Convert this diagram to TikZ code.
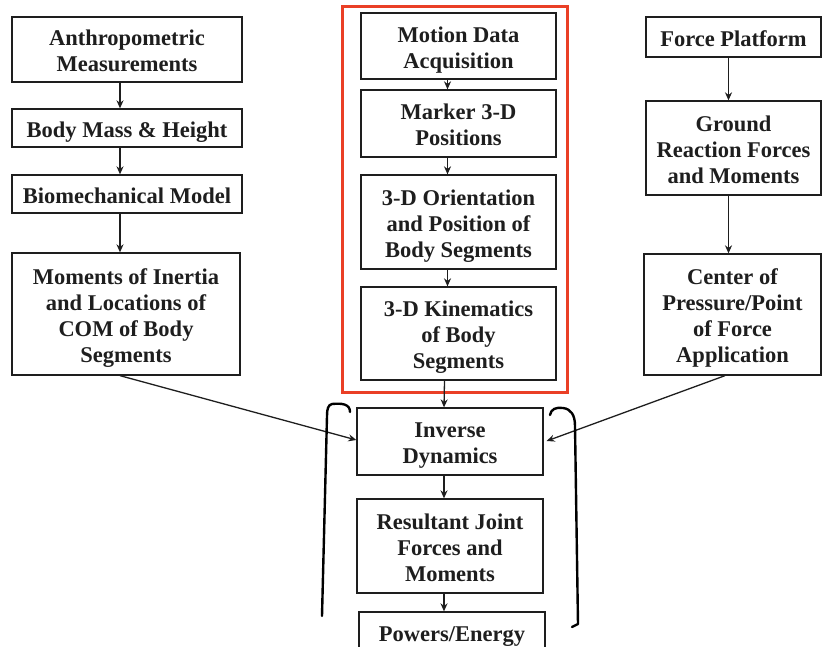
\documentclass[tikz,border=0pt]{standalone}
\usepackage{fontspec}
\setmainfont{Liberation Serif}
\usetikzlibrary{arrows.meta}
\definecolor{ink}{HTML}{1E1E1E}
\definecolor{redframe}{HTML}{EA3F26}
% centred stack of lines with a tall strut in the first row, which sets the text a little low in its box
\newcommand\boxlines[1]{\begin{tabular}{@{}c@{}}\rule{0pt}{26pt}#1\end{tabular}}
\tikzset{
  stepbox/.style={draw=ink, line width=1.3pt, inner sep=0pt,
    font=\fontsize{22.5}{26}\selectfont\bfseries, text=ink},
  arr/.style={draw=ink, line width=1.3pt, -{Stealth[length=8pt,width=7pt]}},
  brace/.style={draw=black, line width=2.4pt, line cap=round, line join=round}
}
\begin{document}
\begin{tikzpicture}[x=1pt,y=-1pt]
\useasboundingbox (0,0) rectangle (822,647);

% left column: body model inputs
\node[stepbox, minimum width=230pt, minimum height=65pt] (anthro) at (127,49.5) {\boxlines{Anthropometric\\Measurements}};
\node[stepbox, minimum width=230pt, minimum height=38pt] (mass) at (127,128) {\boxlines{Body Mass \& Height}};
\node[stepbox, minimum width=230pt, minimum height=38pt] (model) at (127,194) {\boxlines{Biomechanical Model}};
\node[stepbox, minimum width=228pt, minimum height=122pt] (inertia) at (126,314) {\boxlines{Moments of Inertia\\and Locations of\\COM of Body\\Segments}};

% centre column: motion capture chain
\draw[redframe, line width=3pt] (342,7) rectangle (567,392);
\node[stepbox, minimum width=195pt, minimum height=66pt] (motion) at (458.5,46) {\boxlines{Motion Data\\Acquisition}};
\node[stepbox, minimum width=195pt, minimum height=67pt] (marker) at (458.5,123.5) {\boxlines{Marker 3-D\\Positions}};
\node[stepbox, minimum width=195pt, minimum height=94pt] (orient) at (458.5,222) {\boxlines{3-D Orientation\\and Position of\\Body Segments}};
\node[stepbox, minimum width=195pt, minimum height=93pt] (kinem) at (458.5,333.5) {\boxlines{3-D Kinematics\\of Body\\Segments}};

% lower centre: dynamics and outputs
\node[stepbox, minimum width=186pt, minimum height=67pt] (inverse) at (450,441.5) {\boxlines{Inverse\\Dynamics}};
\node[stepbox, minimum width=186pt, minimum height=94pt] (joint) at (450,546) {\boxlines{Resultant Joint\\Forces and\\Moments}};
\node[stepbox, minimum width=186pt, minimum height=40pt] (power) at (452,632) {\boxlines{Powers/Energy}};

% right column: force plate chain
\node[stepbox, minimum width=175pt, minimum height=40pt] (plate) at (733.5,37) {\boxlines{Force Platform}};
\node[stepbox, minimum width=175pt, minimum height=94pt] (grf) at (733.5,148) {\boxlines{Ground\\Reaction Forces\\and Moments}};
\node[stepbox, minimum width=177pt, minimum height=121pt] (cop) at (732.5,314.5) {\boxlines{Center of\\Pressure/Point\\of Force\\Application}};

% vertical connectors
\draw[arr] ([xshift=-7pt]anthro.south) -- ([xshift=-7pt]mass.north);
\draw[arr] ([xshift=-7pt]mass.south) -- ([xshift=-7pt]model.north);
\draw[arr] ([xshift=-7pt]model.south) -- ([xshift=-6pt]inertia.north);
\draw[arr] ([xshift=-11pt]motion.south) -- ([xshift=-11pt]marker.north);
\draw[arr] ([xshift=-11pt]marker.south) -- ([xshift=-11pt]orient.north);
\draw[arr] ([xshift=-11pt]orient.south) -- ([xshift=-11pt]kinem.north);
\draw[arr] ([xshift=-14pt]kinem.south) -- ([xshift=-6pt]inverse.north);
\draw[arr] ([xshift=-6pt]inverse.south) -- ([xshift=-6pt]joint.north);
\draw[arr] ([xshift=-6pt]joint.south) -- ([xshift=-8pt]power.north);
\draw[arr] ([xshift=-5pt]plate.south) -- ([xshift=-5pt]grf.north);
\draw[arr] ([xshift=-5pt]grf.south) -- ([xshift=-4pt]cop.north);

% diagonal connectors into inverse dynamics
\draw[arr] ([xshift=-6pt]inertia.south) -- ([yshift=1.5pt]inverse.west);
\draw[arr] ([xshift=-7.5pt]cop.south) -- ([yshift=0.5pt,xshift=3pt]inverse.east);

% hand-drawn brackets
\draw[brace] (350,412) .. controls (350,404) and (342,403) .. (332,404)
  .. controls (328,405) and (327,409) .. (327,416) -- (322,616);
\draw[brace] (550,415) .. controls (551,409) and (556,407) .. (563,408)
  .. controls (571,409) and (575,415) .. (575,426) -- (578,624) -- (572,627);
\end{tikzpicture}
\end{document}
